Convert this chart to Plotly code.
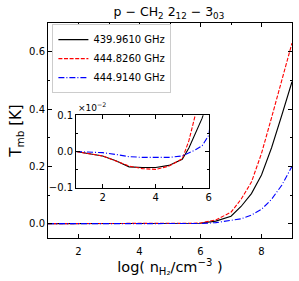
import plotly.graph_objects as go

# shared density grid, log(n_H2 / cm^-3)
log_n = [1, 1.5, 2, 2.5, 3, 3.5, 4, 4.5, 5, 5.25, 5.5, 5.75, 6,
         6.5, 7, 7.33, 7.67, 8, 8.33, 8.67, 9]

# T_mb [K]
t_439 = [0.0, -0.00005, -0.00012, -0.00025, -0.00042, -0.00044, -0.00044,
         -0.00038, -0.00021, 0.0001, 0.0005, 0.00092, 0.0015,
         0.009, 0.026, 0.06, 0.105, 0.17, 0.265, 0.38, 0.495]
t_444a = [0.0, -0.00005, -0.00012, -0.00026, -0.0004, -0.00047, -0.00049,
          -0.0004, -0.0002, 0.0003, 0.00095, 0.0016, 0.0025,
          0.013, 0.04, 0.085, 0.145, 0.245, 0.37, 0.50, 0.63]
t_444b = [0.0, -0.00001, -0.00003, -0.00008, -0.00014, -0.00016, -0.00017,
          -0.00016, -0.00012, -0.00004, 0.00005, 0.00016, 0.00045,
          0.0035, 0.011, 0.017, 0.03, 0.05, 0.085, 0.135, 0.20]

names = ["439.9610 GHz", "444.8260 GHz", "444.9140 GHz"]
series = [t_439, t_444a, t_444b]
colors = ["black", "red", "blue"]
dashes = ["solid", "4px,1.6px", "6px,2px,1px,2px"]

inset_yticks = [-0.001, 0.0, 0.001]
inset_yticklabels = ["\u22120.1", "0.0", "0.1"]

FONT = "DejaVu Sans"
fig = go.Figure()
for n, s, c, d in zip(names, series, colors, dashes):
    fig.add_trace(go.Scatter(x=log_n, y=s, mode="lines", name=n,
                             line=dict(color=c, dash=d, width=1.1),
                             xaxis="x", yaxis="y"))
for n, s, c, d in zip(names, series, colors, dashes):
    fig.add_trace(go.Scatter(x=log_n, y=s, mode="lines", name=n, showlegend=False,
                             line=dict(color=c, dash=d, width=1.1),
                             xaxis="x2", yaxis="y2"))

axcommon = dict(showline=True, linecolor="black", linewidth=1, mirror="allticks",
                ticks="inside", ticklen=4, tickwidth=1, tickcolor="black",
                showgrid=False, zeroline=False, automargin=False,
                tickfont=dict(family=FONT, size=10, color="black"))

fig.update_layout(
    width=299, height=281,
    margin=dict(l=48, r=7, t=23, b=43, autoexpand=False),
    paper_bgcolor="white", plot_bgcolor="white",
    font=dict(family=FONT, color="black"),
    title=dict(text="p \u2212 CH<sub>2</sub> 2<sub>12</sub> \u2212 3<sub>03</sub>",
               x=0.565, xanchor="center", y=0.957, yanchor="middle",
               font=dict(family=FONT, size=12.5)),
    xaxis=dict(range=[1, 9], dtick=2, tick0=0, domain=[0, 1],
               minor=dict(dtick=1, ticks="inside", ticklen=2, tickcolor="black"),
               title=dict(text="log( n<sub>H\u2082</sub>/cm<sup>\u22123</sup> )",
                          font=dict(family=FONT, size=14.5), standoff=5),
               ticklabelstandoff=4,
               **axcommon),
    yaxis=dict(range=[-0.05, 0.7], dtick=0.2, tick0=0, tickformat=".1f",
               minor=dict(dtick=0.1, ticks="inside", ticklen=2, tickcolor="black"),
               title=dict(text="T<sub>mb</sub> [K]", font=dict(family=FONT, size=15),
                          standoff=3),
               **axcommon),
    xaxis2=dict(range=[1, 6], dtick=2, tick0=0, domain=[0.115, 0.659], anchor="y2",
                minor=dict(dtick=1, ticks="inside", ticklen=2, tickcolor="black"),
                **axcommon),
    yaxis2=dict(range=[-0.001, 0.001], tickvals=inset_yticks, ticktext=inset_yticklabels,
                domain=[0.233, 0.571], anchor="x2",
                minor=dict(dtick=0.0005, ticks="inside", ticklen=2, tickcolor="black"),
                **axcommon),
    legend=dict(x=0.018, y=0.995, xanchor="left", yanchor="top",
                bgcolor="white", bordercolor="#cccccc", borderwidth=1,
                font=dict(family=FONT, size=10), tracegroupgap=0,
                itemwidth=30),
    showlegend=True,
)
fig.add_annotation(text="\u00d710<sup>\u22122</sup>", xref="paper", yref="paper",
                   x=0.115, y=0.572, xanchor="left", yanchor="bottom",
                   showarrow=False, font=dict(family=FONT, size=9))

fig.write_html("out.html", config={"displayModeBar": False},
               post_script="document.body.style.margin='0px';document.body.style.overflow='hidden';")
